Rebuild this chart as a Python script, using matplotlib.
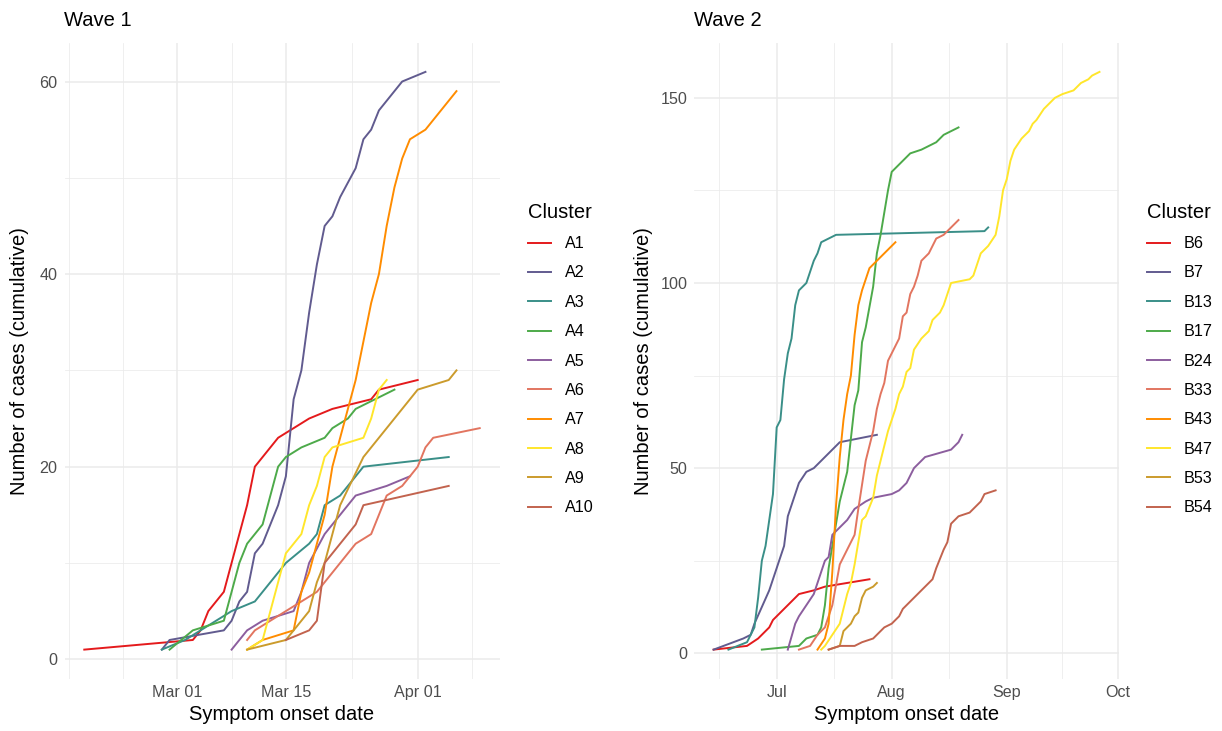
import numpy as np
import matplotlib
matplotlib.use('Agg')
import matplotlib.pyplot as plt

plt.rcParams['font.family'] = ['Liberation Sans', 'DejaVu Sans']

# ---- wave 1, days counted from 2020-03-01 ----
wave1_start = np.datetime64('2020-03-01')
wave1_names = ['A1', 'A2', 'A3', 'A4', 'A5', 'A6', 'A7', 'A8', 'A9', 'A10']

a1_days = [-12, 2, 3, 4, 6, 9, 10, 13, 15, 17, 20, 25, 26, 31]
a1_cases = [1, 2, 3, 5, 7, 16, 20, 23, 24, 25, 26, 27, 28, 29]
a2_days = [-2, -1, 6, 7, 8, 9, 10, 11, 13, 14, 15, 16, 17, 18, 19, 20, 21, 23, 24, 25, 26, 29, 32]
a2_cases = [1, 2, 3, 4, 6, 7, 11, 12, 16, 19, 27, 30, 36, 41, 45, 46, 48, 51, 54, 55, 57, 60, 61]
a3_days = [-2, 1, 3, 7, 10, 14, 17, 18, 19, 21, 22, 24, 35]
a3_cases = [1, 2, 3, 5, 6, 10, 12, 13, 16, 17, 18, 20, 21]
a4_days = [-1, 2, 6, 7, 8, 9, 11, 13, 14, 16, 19, 20, 22, 23, 28]
a4_cases = [1, 3, 4, 7, 10, 12, 14, 20, 21, 22, 23, 24, 25, 26, 28]
a5_days = [7, 9, 11, 15, 16, 17, 19, 21, 23, 27, 30]
a5_cases = [1, 3, 4, 5, 7, 10, 13, 15, 17, 18, 19]
a6_days = [9, 10, 14, 18, 21, 23, 25, 27, 29, 31, 32, 33, 39]
a6_cases = [2, 3, 5, 7, 10, 12, 13, 17, 18, 20, 22, 23, 24]
a7_days = [9, 11, 15, 16, 17, 18, 19, 20, 22, 23, 24, 25, 26, 27, 28, 29, 30, 32, 36]
a7_cases = [1, 2, 3, 7, 9, 12, 15, 20, 26, 29, 33, 37, 40, 45, 49, 52, 54, 55, 59]
a8_days = [9, 11, 13, 14, 16, 17, 18, 19, 20, 24, 25, 26, 27]
a8_cases = [1, 2, 8, 11, 13, 16, 18, 21, 22, 23, 25, 28, 29]
a9_days = [9, 14, 17, 18, 19, 21, 24, 31, 35, 36]
a9_cases = [1, 2, 5, 8, 10, 16, 21, 28, 29, 30]
a10_days = [14, 17, 18, 19, 23, 24, 35]
a10_cases = [2, 3, 4, 10, 14, 16, 18]

# ---- wave 2, days counted from 2020-07-01 ----
wave2_start = np.datetime64('2020-07-01')
wave2_names = ['B6', 'B7', 'B13', 'B17', 'B24', 'B33', 'B43', 'B47', 'B53', 'B54']

b6_days = [-17, -8, -5, -2, -1, 6, 10, 13, 25]
b6_cases = [1, 2, 4, 7, 9, 16, 17, 18, 20]
b7_days = [-17, -9, -7, -6, -2, 0, 2, 3, 6, 8, 10, 13, 15, 17, 27]
b7_cases = [1, 4, 5, 8, 17, 23, 29, 37, 46, 49, 50, 53, 55, 57, 59]
b13_days = [-13, -8, -7, -6, -5, -4, -3, -1, 0, 1, 2, 3, 4, 5, 6, 8, 10, 11, 12, 16, 56, 57]
b13_cases = [1, 3, 5, 7, 15, 25, 29, 43, 61, 63, 74, 81, 85, 94, 98, 100, 106, 108, 111, 113, 114, 115]
b17_days = [-4, 6, 8, 11, 12, 13, 14, 15, 16, 17, 19, 20, 21, 22, 23, 24, 26, 27, 28, 29, 30, 31, 32, 36, 39, 43, 45, 49]
b17_cases = [1, 2, 4, 5, 7, 13, 23, 29, 35, 41, 49, 58, 67, 71, 84, 88, 99, 108, 113, 119, 125, 130, 131, 135, 136, 138, 140, 142]
b24_days = [3, 5, 6, 8, 10, 12, 13, 14, 15, 17, 19, 21, 24, 26, 31, 33, 35, 37, 40, 47, 49, 50]
b24_cases = [1, 8, 10, 13, 16, 22, 25, 26, 32, 34, 36, 39, 41, 42, 43, 44, 46, 50, 53, 55, 57, 59]
b33_days = [6, 9, 11, 13, 15, 17, 19, 21, 22, 24, 26, 27, 28, 29, 30, 33, 34, 35, 36, 37, 38, 39, 41, 43, 45, 49]
b33_cases = [1, 2, 5, 7, 13, 24, 28, 32, 39, 52, 60, 66, 70, 73, 79, 85, 91, 92, 97, 99, 102, 106, 108, 112, 113, 117]
b43_days = [11, 13, 14, 15, 16, 17, 18, 19, 20, 21, 22, 23, 25, 28, 30, 32]
b43_cases = [1, 4, 8, 22, 40, 53, 63, 70, 75, 86, 94, 98, 104, 107, 109, 111]
b47_days = [12, 13, 17, 18, 19, 20, 21, 22, 23, 24, 26, 27, 29, 30, 32, 33, 34, 35, 36, 37, 39, 41, 42, 44, 45,
            47, 52, 53, 55, 57, 59, 60, 61, 62, 63, 64, 66, 68, 69, 70, 72, 75, 77, 80, 82, 84, 85, 87]
b47_cases = [1, 2, 8, 12, 16, 19, 24, 30, 36, 37, 42, 48, 56, 60, 66, 70, 72, 76, 77, 82, 85, 87, 90, 92, 94,
             100, 101, 102, 108, 110, 113, 118, 125, 128, 133, 136, 139, 141, 143, 144, 147, 150, 151, 152, 154, 155, 156, 157]
b53_days = [14, 17, 18, 20, 21, 22, 23, 24, 26, 27]
b53_cases = [1, 2, 6, 8, 10, 11, 15, 17, 18, 19]
b54_days = [14, 17, 21, 23, 26, 29, 31, 33, 34, 42, 43, 45, 46, 47, 49, 52, 55, 56, 59]
b54_cases = [1, 2, 2, 3, 4, 7, 8, 10, 12, 20, 23, 28, 30, 35, 37, 38, 41, 43, 44]

wave1_days = [a1_days, a2_days, a3_days, a4_days, a5_days, a6_days, a7_days, a8_days, a9_days, a10_days]
wave1_cases = [a1_cases, a2_cases, a3_cases, a4_cases, a5_cases, a6_cases, a7_cases, a8_cases, a9_cases, a10_cases]
wave2_days = [b6_days, b7_days, b13_days, b17_days, b24_days, b33_days, b43_days, b47_days, b53_days, b54_days]
wave2_cases = [b6_cases, b7_cases, b13_cases, b17_cases, b24_cases, b33_cases, b43_cases, b47_cases, b53_cases, b54_cases]

cluster_colors = ['#E41A1C', '#615B8F', '#3A8F88', '#4DAA4A', '#8C5E9E',
                  '#E27560', '#FF8C00', '#FFE62B', '#CB9B2C', '#C2634E']

wave1_ticks = ['2020-03-01', '2020-03-15', '2020-04-01']
wave1_ticklabels = ['Mar 01', 'Mar 15', 'Apr 01']
wave1_minor = ['2020-02-16', '2020-02-23', '2020-03-08', '2020-03-23T12', '2020-04-08']
wave2_ticks = ['2020-07-01', '2020-08-01', '2020-09-01', '2020-10-01']
wave2_ticklabels = ['Jul', 'Aug', 'Sep', 'Oct']
wave2_minor = ['2020-06-15T12', '2020-07-16T12', '2020-08-16T12', '2020-09-16']

W, H = 1222, 731
GRID = '#EBEBEB'


def offset(dates, start):
    # position in days relative to the wave start
    return [(np.datetime64(d) - start) / np.timedelta64(1, 'D') for d in dates]


def draw_wave(ax, title, start, names, days, cases, ticks, ticklabels, minor,
              yticks, yminor, leg_x, ylab_x):
    for name, d, c, col in zip(names, days, cases, cluster_colors):
        ax.plot(d, c, color=col, lw=1.4, label=name, solid_joinstyle='round')

    alld = np.concatenate(days)
    allc = np.concatenate(cases)
    dx = 0.05 * (alld.max() - alld.min())
    dy = 0.05 * (allc.max() - allc.min())
    ax.set_xticks(offset(ticks, start))
    ax.set_xticklabels(ticklabels)
    ax.set_xticks(offset(minor, start), minor=True)
    ax.set_yticks(yticks)
    ax.set_yticks(yminor, minor=True)
    ax.set_xlim(alld.min() - dx, alld.max() + dx)
    ax.set_ylim(allc.min() - dy, allc.max() + dy)

    for s in ax.spines.values():
        s.set_visible(False)
    ax.tick_params(which='both', length=0)
    ax.tick_params(labelsize=11.6, labelcolor='#4D4D4D', pad=5)
    ax.grid(which='major', color=GRID, lw=1.1)
    ax.grid(which='minor', color=GRID, lw=0.55)
    ax.set_axisbelow(True)

    ax.set_title(title, loc='left', fontsize=14.5, pad=12)
    ax.set_xlabel('Symptom onset date', fontsize=14.5, va='center')
    ax.xaxis.set_label_coords(0.5, -(714 - 678.5) / 635.5)
    ax.set_ylabel('Number of cases (cumulative)', fontsize=14.5, va='center')
    bb = ax.get_position()
    ax.yaxis.set_label_coords((ylab_x / W - bb.x0) / bb.width, 0.5)

    leg = ax.legend(title='Cluster', loc='center left', bbox_to_anchor=(leg_x / W, 1 - 359 / H),
                    bbox_transform=ax.figure.transFigure, frameon=False, borderpad=0,
                    borderaxespad=0, handlelength=1.45, handletextpad=0.83,
                    labelspacing=0.89, fontsize=11.6, title_fontsize=14.5, alignment='left')
    return leg


fig = plt.figure(figsize=(W / 100, H / 100), dpi=100)
ax1 = fig.add_axes([64.5 / W, 1 - 678.5 / H, 435 / W, 635.5 / H])
ax2 = fig.add_axes([694.3 / W, 1 - 678.5 / H, 424.5 / W, 635.5 / H])

draw_wave(ax1, 'Wave 1', wave1_start, wave1_names, wave1_days, wave1_cases,
          wave1_ticks, wave1_ticklabels, wave1_minor, [0, 20, 40, 60], [10, 30, 50], 528, 20)
draw_wave(ax2, 'Wave 2', wave2_start, wave2_names, wave2_days, wave2_cases,
          wave2_ticks, wave2_ticklabels, wave2_minor, [0, 50, 100, 150], [25, 75, 125], 1147, 643)

fig.savefig('out.png', dpi=100, facecolor='white')
